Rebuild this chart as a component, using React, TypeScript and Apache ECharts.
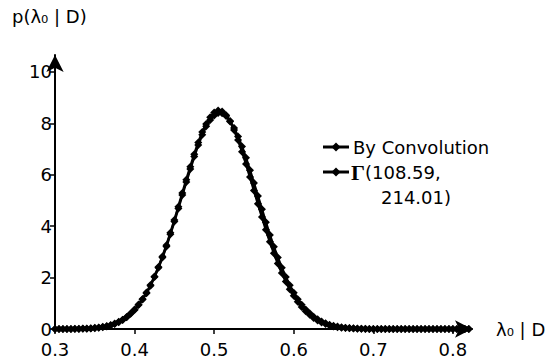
import React, { useEffect, useRef } from "react";
import * as echarts from "echarts";

const X_VALUES = [
  0.300, 0.305, 0.310, 0.315, 0.320, 0.325, 0.330, 0.335, 0.340, 0.345,
  0.350, 0.355, 0.360, 0.365, 0.370, 0.375, 0.380, 0.385, 0.390, 0.395,
  0.400, 0.405, 0.410, 0.415, 0.420, 0.425, 0.430, 0.435, 0.440, 0.445,
  0.450, 0.455, 0.460, 0.465, 0.470, 0.475, 0.480, 0.485, 0.490, 0.495,
  0.500, 0.505, 0.510, 0.515, 0.520, 0.525, 0.530, 0.535, 0.540, 0.545,
  0.550, 0.555, 0.560, 0.565, 0.570, 0.575, 0.580, 0.585, 0.590, 0.595,
  0.600, 0.605, 0.610, 0.615, 0.620, 0.625, 0.630, 0.635, 0.640, 0.645,
  0.650, 0.655, 0.660, 0.665, 0.670, 0.675, 0.680, 0.685, 0.690, 0.695,
  0.700, 0.705, 0.710, 0.715, 0.720, 0.725, 0.730, 0.735, 0.740, 0.745,
  0.750, 0.755, 0.760, 0.765, 0.770, 0.775, 0.780, 0.785, 0.790, 0.795,
  0.800, 0.805, 0.810, 0.815, 0.820,
];

const CONVOLUTION = [
  0, 0, 0, 0, 0, 0, 0, 0.01, 0.01, 0.02,
  0.03, 0.05, 0.07, 0.10, 0.14, 0.19, 0.26, 0.35, 0.46, 0.60,
  0.76, 0.95, 1.17, 1.42, 1.71, 2.04, 2.41, 2.82, 3.26, 3.74,
  4.24, 4.76, 5.29, 5.81, 6.31, 6.80, 7.26, 7.66, 7.98, 8.24,
  8.42, 8.50, 8.46, 8.32, 8.07, 7.74, 7.35, 6.90, 6.42, 5.91,
  5.39, 4.87, 4.36, 3.86, 3.39, 2.95, 2.55, 2.18, 1.85, 1.55,
  1.29, 1.06, 0.86, 0.69, 0.55, 0.43, 0.33, 0.25, 0.19, 0.14,
  0.10, 0.07, 0.05, 0.04, 0.03, 0.02, 0.01, 0.01, 0, 0,
  0, 0, 0, 0, 0, 0, 0, 0, 0, 0,
  0, 0, 0, 0, 0, 0, 0, 0, 0, 0,
  0, 0, 0, 0, 0,
];

const GAMMA = [
  0, 0, 0, 0, 0, 0.01, 0.01, 0.02, 0.02, 0.03,
  0.05, 0.06, 0.09, 0.12, 0.16, 0.21, 0.28, 0.36, 0.47, 0.59,
  0.74, 0.93, 1.15, 1.39, 1.68, 2.02, 2.38, 2.78, 3.21, 3.69,
  4.18, 4.69, 5.21, 5.72, 6.22, 6.71, 7.16, 7.56, 7.89, 8.13,
  8.31, 8.40, 8.39, 8.29, 8.09, 7.82, 7.49, 7.10, 6.66, 6.18,
  5.68, 5.17, 4.66, 4.15, 3.66, 3.20, 2.78, 2.38, 2.02, 1.70,
  1.41, 1.16, 0.94, 0.76, 0.61, 0.48, 0.38, 0.29, 0.22, 0.17,
  0.13, 0.10, 0.07, 0.05, 0.04, 0.03, 0.02, 0.01, 0.01, 0,
  0, 0, 0, 0, 0, 0, 0, 0, 0, 0,
  0, 0, 0, 0, 0, 0, 0, 0, 0, 0,
  0, 0, 0, 0, 0,
];

const X_TICKS = [0.3, 0.4, 0.5, 0.6, 0.7, 0.8];
const Y_TICKS = [0, 2, 4, 6, 8, 10];
const SERIES_NAMES = ["By Convolution", "Γ(108.59, 214.01)"];

const FONT = "DejaVu Sans";

function zip(xs: number[], ys: number[]) {
  return xs.map((x, i) => [x, ys[i]]);
}

function legendIcon(x: number, y: number) {
  return [
    {
      type: "line",
      shape: { x1: x, y1: y, x2: x + 26, y2: y },
      style: { stroke: "#000", lineWidth: 3 },
    },
    {
      type: "polygon",
      shape: {
        points: [
          [x + 13, y - 4.5],
          [x + 17.5, y],
          [x + 13, y + 4.5],
          [x + 8.5, y],
        ],
      },
      style: { fill: "#000" },
    },
  ];
}

export default function App() {
  const ref = useRef<HTMLDivElement>(null);

  useEffect(() => {
    if (!ref.current) return;
    const chart = echarts.init(ref.current, null, { renderer: "svg" });
    const option = {
      animation: false,
      backgroundColor: "#fff",
      grid: { left: 55, right: 85, top: 55, bottom: 35, containLabel: false },
      xAxis: {
        type: "value",
        min: 0.3,
        max: 0.824,
        name: "λ₀ | D",
        nameLocation: "end",
        nameGap: 24,
        nameTextStyle: { color: "#000", fontSize: 18, fontFamily: FONT, align: "left", verticalAlign: "middle" },
        axisLine: {
          show: true,
          onZero: false,
          symbol: ["none", "arrow"],
          symbolSize: [13, 17],
          lineStyle: { color: "#000", width: 2 },
        },
        axisTick: {
          show: true,
          customValues: X_TICKS,
          length: 5,
          lineStyle: { color: "#000", width: 1.5 },
        },
        axisLabel: {
          customValues: X_TICKS,
          formatter: (v: number) => v.toFixed(1),
          color: "#000",
          fontSize: 18,
          fontFamily: FONT,
          margin: 11,
        },
        splitLine: { show: false },
      },
      yAxis: {
        type: "value",
        min: 0,
        max: 10.66,
        axisLine: {
          show: true,
          onZero: false,
          symbol: ["none", "arrow"],
          symbolSize: [13, 17],
          lineStyle: { color: "#000", width: 2 },
        },
        axisTick: {
          show: true,
          customValues: Y_TICKS,
          length: 5,
          lineStyle: { color: "#000", width: 1.5 },
        },
        axisLabel: {
          customValues: Y_TICKS,
          formatter: (v: number) => String(v),
          color: "#000",
          fontSize: 18,
          fontFamily: FONT,
          margin: 3,
        },
        splitLine: { show: false },
      },
      graphic: [
        {
          type: "text",
          left: 12,
          top: 7,
          style: { text: "p(λ₀ | D)", fill: "#000", font: `18px '${FONT}'` },
        },
        ...legendIcon(323, 147),
        {
          type: "text",
          x: 353,
          y: 147,
          style: { text: "By Convolution", fill: "#000", font: `18px '${FONT}'`, verticalAlign: "middle" },
        },
        ...legendIcon(323, 172),
        {
          type: "text",
          x: 351,
          y: 172,
          style: {
            text: "{g|Γ}{t|(108.59,}",
            fill: "#000",
            verticalAlign: "middle",
            rich: {
              g: { fontFamily: "Liberation Serif", fontSize: 22, fontWeight: "bold", fill: "#000" },
              t: { fontFamily: FONT, fontSize: 18, fill: "#000" },
            },
          },
        },
        {
          type: "text",
          x: 381,
          y: 197,
          style: { text: "214.01)", fill: "#000", font: `18px '${FONT}'`, verticalAlign: "middle" },
        },
      ],
      series: [
        {
          name: SERIES_NAMES[0],
          type: "line",
          data: zip(X_VALUES, CONVOLUTION),
          symbol: "diamond",
          symbolSize: 8,
          showSymbol: true,
          itemStyle: { color: "#000" },
          lineStyle: { color: "#000", width: 2.5 },
          z: 3,
        },
        {
          name: SERIES_NAMES[1],
          type: "line",
          data: zip(X_VALUES, GAMMA),
          symbol: "diamond",
          symbolSize: 8,
          showSymbol: true,
          itemStyle: { color: "#000" },
          lineStyle: { color: "#000", width: 2.5 },
          z: 3,
        },
      ],
    };
    chart.setOption(option as any);
    return () => chart.dispose();
  }, []);

  return (
    <div
      ref={ref}
      style={{ position: "fixed", left: 0, top: 0, width: 557, height: 364, background: "#fff" }}
    />
  );
}
